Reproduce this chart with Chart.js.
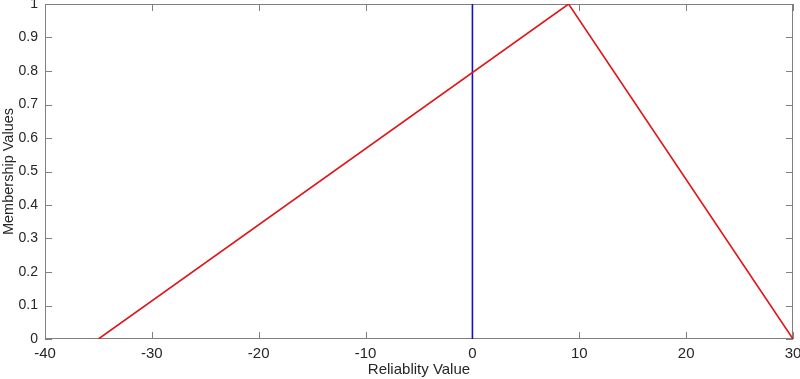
<!DOCTYPE html>
<html>
<head>
<meta charset="utf-8">
<script src="https://cdn.jsdelivr.net/npm/chart.js@4"></script>
<style>
html,body{margin:0;padding:0;background:#fff;}
#wrap{width:800px;height:379px;position:relative;}
</style>
</head>
<body>
<div id="wrap"><canvas id="c" width="800" height="379"></canvas></div>
<script>
const triangleX = [-35, 9, 30];
const triangleY = [0, 1, 0];
const markerX = [0, 0];
const markerY = [0, 1];
const xTickMin = -40, xTickMax = 30, xTickStep = 10;
const yTickMin = 0, yTickMax = 1, yTickStep = 0.1;
const xTitle = 'Reliablity Value';
const yTitle = 'Membership Values';

const axisColor = '#808080';
const textColor = '#262626';
const fontFam = '"Liberation Sans", Arial, Helvetica, sans-serif';

const boxTicks = {
  id: 'boxTicks',
  beforeDatasetsDraw(chart) {
    const ctx = chart.ctx, a = chart.chartArea;
    const xs = chart.scales.x, ys = chart.scales.y;
    const L = 7;
    ctx.save();
    ctx.strokeStyle = axisColor;
    ctx.lineWidth = 1;
    ctx.beginPath();
    ctx.rect(a.left + 0.5, a.top + 0.5, a.right - a.left - 1, a.bottom - a.top - 1);
    xs.ticks.forEach(t => {
      const px = Math.round(xs.getPixelForValue(t.value)) + 0.5;
      ctx.moveTo(px, a.bottom); ctx.lineTo(px, a.bottom - L);
      ctx.moveTo(px, a.top); ctx.lineTo(px, a.top + L);
    });
    ys.ticks.forEach(t => {
      const py = Math.round(ys.getPixelForValue(t.value)) + 0.5;
      ctx.moveTo(a.left, py); ctx.lineTo(a.left + L, py);
      ctx.moveTo(a.right, py); ctx.lineTo(a.right - L, py);
    });
    ctx.stroke();
    ctx.restore();
  }
};

new Chart(document.getElementById('c'), {
  type: 'scatter',
  data: {
    datasets: [
      {
        data: triangleX.map((x, i) => ({x, y: triangleY[i]})),
        showLine: true, borderColor: '#e0161b', borderWidth: 1.6,
        pointRadius: 0, fill: false, tension: 0
      },
      {
        data: markerX.map((x, i) => ({x, y: markerY[i]})),
        showLine: true, borderColor: '#1010c8', borderWidth: 1.6,
        pointRadius: 0, fill: false, tension: 0
      }
    ]
  },
  options: {
    responsive: false,
    animation: false,
    layout: { padding: { top: 4, right: 7, left: 0, bottom: 0 } },
    plugins: { legend: { display: false }, tooltip: { enabled: false } },
    scales: {
      x: {
        type: 'linear', min: xTickMin, max: xTickMax,
        grid: { display: false, drawTicks: false },
        border: { display: false },
        ticks: { stepSize: xTickStep, color: textColor, padding: 6,
                 font: { family: fontFam, size: 15 }, maxRotation: 0, autoSkip: false },
        title: { display: true, text: xTitle, color: textColor,
                 font: { family: fontFam, size: 15 }, padding: { top: 0, bottom: 0 } },
        afterFit(s) { s.height = 40; s.paddingLeft = 0; s.paddingRight = 0; }
      },
      y: {
        type: 'linear', min: yTickMin, max: yTickMax,
        grid: { display: false, drawTicks: false },
        border: { display: false },
        ticks: { stepSize: yTickStep, color: textColor, padding: 7,
                 font: { family: fontFam, size: 14 }, autoSkip: false,
                 callback: v => String(Number(v.toFixed(1))) },
        title: { display: true, text: yTitle, color: textColor,
                 font: { family: fontFam, size: 14.5 }, padding: { top: 0, bottom: 0 } },
        afterFit(s) { s.width = 45; s.paddingTop = 0; s.paddingBottom = 0; }
      }
    }
  },
  plugins: [boxTicks]
});
</script>
</body>
</html>
